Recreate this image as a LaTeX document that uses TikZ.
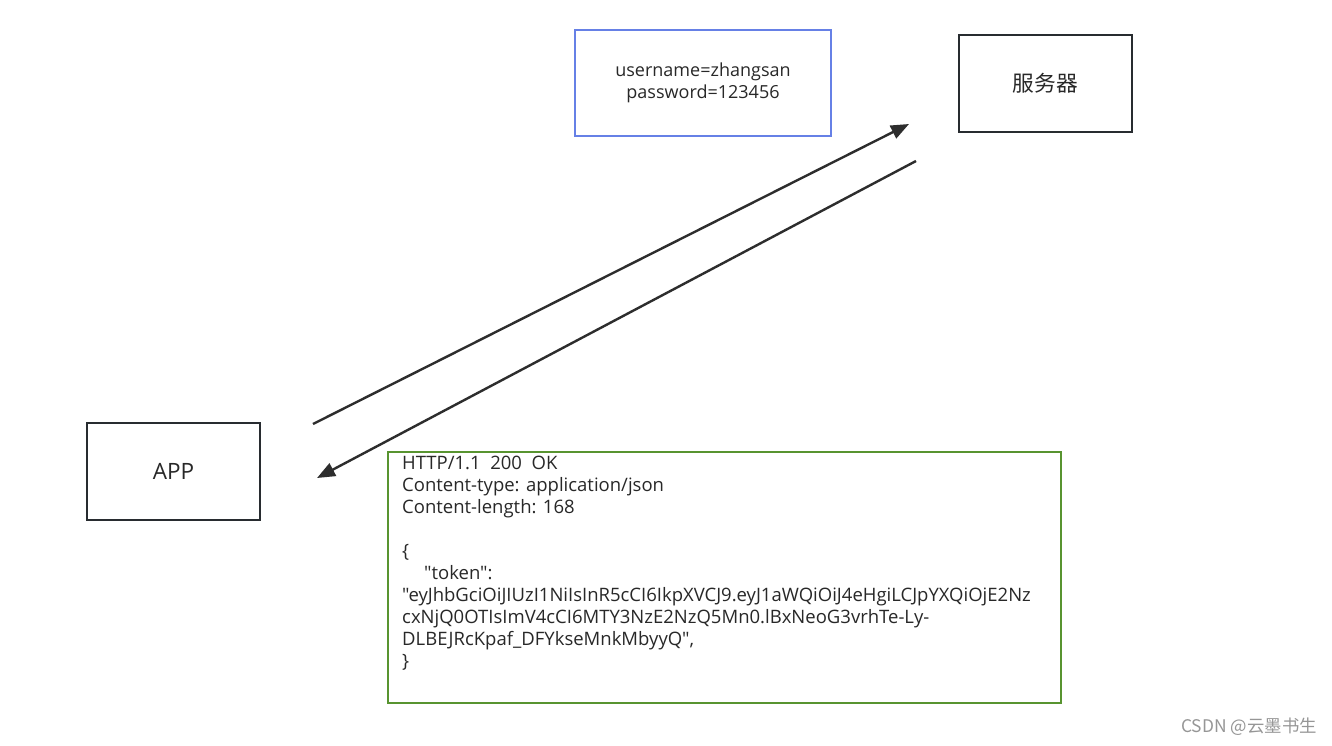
\documentclass[tikz,border=0pt]{standalone}
\usepackage{fontspec}
\setmainfont{Open Sans}[Ligatures=TeXOff]
\newfontfamily\cjk{Noto Sans CJK SC}
\usetikzlibrary{arrows.meta}
\definecolor{boxdark}{RGB}{40,44,48}
\definecolor{boxblue}{RGB}{102,128,230}
\definecolor{boxgreen}{RGB}{88,148,48}
\definecolor{arrowdark}{RGB}{45,45,45}
\definecolor{txt}{RGB}{40,40,40}
\definecolor{wm}{RGB}{150,150,150}
\newcommand{\qq}{\symbol{34}}
\begin{document}
\begin{tikzpicture}[x=1pt,y=-1pt,
  darkbox/.style={draw=boxdark,line width=2.6pt,minimum width=173pt,minimum height=97pt,inner sep=0pt,text=txt,font=\fontsize{22.5}{26}\selectfont},
  bluebox/.style={draw=boxblue,line width=2.4pt,minimum width=256pt,minimum height=106pt,inner sep=0pt,text=txt,align=center,font=\fontsize{18}{22}\selectfont},
  greenbox/.style={draw=boxgreen,line width=2.4pt,minimum width=673pt,minimum height=251pt,inner sep=0pt},
  greentext/.style={anchor=north west,align=left,inner sep=0pt,text=txt,font=\fontsize{18.5}{22}\selectfont},
  msg/.style={draw=arrowdark,line width=2.4pt,-{Triangle[length=18pt,width=14pt]}}]
\useasboundingbox (0,0) rectangle (1332,745);
\fill[white] (0,0) rectangle (1332,745);
\node[bluebox] (cred) at (703,83) {username=zhangsan\\password=123456};
\node[darkbox,font=\cjk\fontsize{21.7}{24}\selectfont] (server) at (1045.5,83.5) {服务器};
\node[darkbox] (app) at (173.5,471.5) {APP};
\node[greenbox] (resp) at (724.5,577.5) {};
\node[greentext] (resptext) at (402,456) {HTTP/1.1\ \ 200\ \ OK\\Content-type: application/json\\Content-length: 168\\[22pt]\{\\\hspace*{22pt}\qq token\qq:\\\qq eyJhbGciOiJIUzI1NiIsInR5cCI6IkpXVCJ9.eyJ1aWQiOiJ4eHgiLCJpYXQiOjE2Nz\\cxNjQ0OTIsImV4cCI6MTY3NzE2NzQ5Mn0.lBxNeoG3vrhTe-Ly-\\DLBEJRcKpaf\_DFYkseMnkMbyyQ\qq,\\\}};
\coordinate (a1s) at (313,424);
\coordinate (a1e) at (909,124);
\coordinate (a2s) at (916,161);
\coordinate (a2e) at (317,478);
\draw[msg] (a1s) -- (a1e);
\draw[msg] (a2s) -- (a2e);
\node[anchor=east,text=wm,inner sep=0pt,font=\cjk\fontsize{17.4}{20}\selectfont] (mark) at (1317,727) {CSDN @云墨书生};
\end{tikzpicture}
\end{document}
